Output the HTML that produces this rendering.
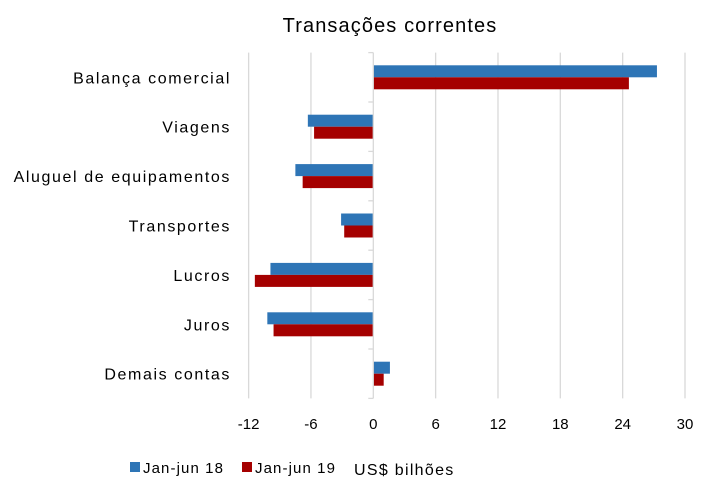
<!DOCTYPE html>
<html><head><meta charset="utf-8"><style>
body{margin:0;background:#fff;}
svg text{font-family:"Liberation Sans",sans-serif;fill:#000;}
</style></head><body>
<svg width="701" height="496">
<text x="390" y="32" font-size="20" letter-spacing="1.1" text-anchor="middle">Transações correntes</text>
<g id="grid"></g><g id="bars"></g><g id="axes"></g>
<g>
<rect x="130" y="462" width="10" height="10" fill="#2E75B6"/>
<text x="143" y="473" font-size="15" letter-spacing="1.1">Jan-jun 18</text>
<rect x="242" y="462" width="10" height="10" fill="#A50000"/>
<text x="255" y="473" font-size="15" letter-spacing="1.1">Jan-jun 19</text>
<text x="354" y="475" font-size="16" letter-spacing="1.3">US$ bilhões</text>
</g>
</svg>
<script>
const categories=["Balança comercial","Viagens","Aluguel de equipamentos","Transportes","Lucros","Juros","Demais contas"];
const series18=[27.3,-6.3,-7.5,-3.1,-9.9,-10.2,1.6];
const series19=[24.6,-5.7,-6.8,-2.8,-11.4,-9.6,1.0];
const ticks=[-12,-6,0,6,12,18,24,30];
(function(){
const NS="http://www.w3.org/2000/svg";
const x0=373.3,ppu=10.39,plotTop=52.6,band=49.4,bh=12;
const X=v=>x0+v*ppu;
const Y=i=>plotTop+i*band;
function mk(t,a,p){const e=document.createElementNS(NS,t);for(const k in a)e.setAttribute(k,a[k]);p.appendChild(e);return e;}
const grid=document.getElementById('grid'),bars=document.getElementById('bars'),axes=document.getElementById('axes');
const bottom=plotTop+categories.length*band;
ticks.forEach(t=>{
 if(t!==0){const l=mk('line',{x1:X(t),x2:X(t),y1:plotTop,y2:bottom,stroke:'#d9d9d9','stroke-width':1.3},grid);
 
 }
 const tx=mk('text',{x:X(t),y:429,'font-size':15,'text-anchor':'middle'},axes);tx.textContent=t;
 
 
});
categories.forEach((c,i)=>{
 const cy=Y(i)+band/2;
 const a=series18[i],b=series19[i];
 const r1=mk('rect',{x:Math.min(X(0),X(a)),y:cy-bh,width:Math.abs(X(a)-X(0)),height:bh,fill:'#2E75B6'},bars);
 
 
 const r2=mk('rect',{x:Math.min(X(0),X(b)),y:cy,width:Math.abs(X(b)-X(0)),height:bh,fill:'#A50000'},bars);
 
 
 const t=mk('text',{x:231,y:cy+6,'font-size':16,'letter-spacing':1.6,'text-anchor':'end'},axes);t.textContent=c;
 
 
});
for(let i=0;i<=categories.length;i++){mk('line',{x1:X(0)-5,x2:X(0),y1:Y(i),y2:Y(i),stroke:'#d9d9d9','stroke-width':1.3},axes);}
const ax=mk('line',{x1:X(0),x2:X(0),y1:plotTop,y2:bottom,stroke:'#d9d9d9','stroke-width':1.3},axes);


})();
</script>
</body></html>
